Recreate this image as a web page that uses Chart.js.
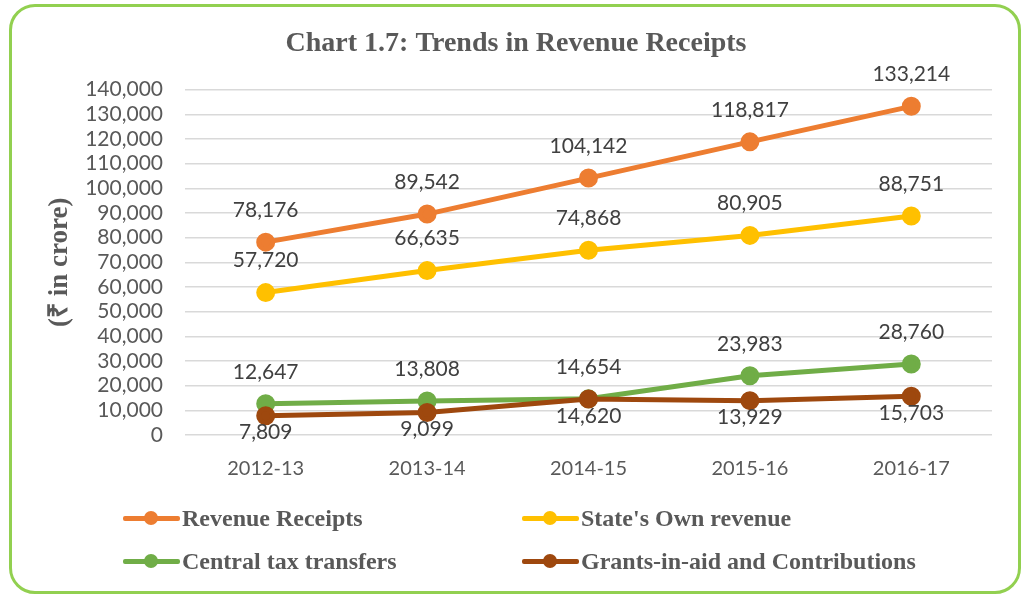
<!DOCTYPE html>
<html>
<head>
<meta charset="utf-8">
<script src="https://cdn.jsdelivr.net/npm/chart.js@4.4.1/dist/chart.umd.min.js"></script>
<style>
    body { margin: 0; background: #fff; }
    #wrap { position: absolute; left: 0; top: 0; width: 1022px; height: 594px; }
    #frame {
        position: absolute; left: 9px; top: 4px; width: 1006px; height: 584px;
        border: 3px solid #92d050; border-radius: 26px; box-sizing: content-box;
        pointer-events: none;
    }
    #legend {
        position: absolute; left: 123px; top: 503px; width: 880px;
        display: grid; grid-template-columns: 399px 399px; row-gap: 13px;
        font-family: "Liberation Serif", "Times New Roman", serif;
        font-weight: bold; font-size: 24px; color: #595959;
    }
    .item { display: flex; align-items: center; height: 30px; white-space: nowrap; }
    .swatch { position: relative; width: 57px; height: 14px; margin-right: 2px; }
    .swatch .ln { position: absolute; left: 0; right: 0; top: 5px; height: 5px; border-radius: 2px; }
    .swatch .pt { position: absolute; left: 21px; top: 0; width: 14px; height: 14px; border-radius: 50%; }
</style>
</head>
<body>
<div id="wrap">
    <canvas id="chart" width="1022" height="594"></canvas>
    <div id="frame"></div>
    <div id="legend"></div>
</div>
<script>
// Data
const years = ['2012-13', '2013-14', '2014-15', '2015-16', '2016-17'];
const revenueReceipts = [78176, 89542, 104142, 118817, 133214];
const ownRevenue = [57720, 66635, 74868, 80905, 88751];
const centralTax = [12647, 13808, 14654, 23983, 28760];
const grantsInAid = [7809, 9099, 14620, 13929, 15703];

const seriesNames = ['Revenue Receipts', "State's Own revenue", 'Central tax transfers', 'Grants-in-aid and Contributions'];
const seriesColors = ['#ed7d31', '#ffc000', '#70ad47', '#9e480e'];
const labelBelow = [false, false, false, true];

function makeDataset(i, values) {
    return {
        label: seriesNames[i],
        data: values,
        borderColor: seriesColors[i],
        backgroundColor: seriesColors[i],
        borderWidth: 5,
        pointRadius: 7,
        pointHoverRadius: 7,
        tension: 0,
        order: 4 - i, // later series drawn on top, like the original
        below: labelBelow[i]
    };
}

// Data labels above the points (below for the grants line)
const pointLabels = {
    id: 'pointLabels',
    afterDatasetsDraw(chart) {
        const ctx = chart.ctx;
        ctx.save();
        ctx.font = '21px Lato, "Open Sans", sans-serif';
        ctx.fillStyle = '#404040';
        ctx.textAlign = 'center';
        ctx.textBaseline = 'middle';
        chart.data.datasets.forEach((ds, i) => {
            chart.getDatasetMeta(i).data.forEach((pt, j) => {
                const y = ds.below ? pt.y + 17 : pt.y - 32;
                ctx.fillText(ds.data[j].toLocaleString('en-US'), pt.x, y);
            });
        });
        ctx.restore();
    }
};

const chart = new Chart(document.getElementById('chart'), {
    type: 'line',
    data: {
        labels: years,
        datasets: [
            makeDataset(0, revenueReceipts),
            makeDataset(1, ownRevenue),
            makeDataset(2, centralTax),
            makeDataset(3, grantsInAid)
        ]
    },
    options: {
        responsive: false,
        animation: false,
        layout: { padding: { left: 40, right: 30, top: 14, bottom: 109 } },
        plugins: {
            legend: { display: false },
            tooltip: { enabled: false },
            title: {
                display: true,
                text: 'Chart 1.7: Trends in Revenue Receipts',
                color: '#595959',
                font: { family: '"Liberation Serif", "Times New Roman", serif', size: 28, weight: 'bold' },
                padding: { top: 13, bottom: 29 }
            }
        },
        scales: {
            x: {
                offset: true,
                grid: { display: false },
                border: { display: false },
                ticks: { color: '#595959', font: { family: 'Lato, sans-serif', size: 20 }, padding: 14 },
                afterFit(scale) { scale.height = 50; }
            },
            y: {
                min: 0,
                max: 140000,
                ticks: {
                    stepSize: 10000,
                    autoSkip: false,
                    color: '#595959',
                    font: { family: 'Lato, sans-serif', size: 21 },
                    padding: 22,
                    callback: v => v.toLocaleString('en-US')
                },
                grid: { color: '#d9d9d9', lineWidth: 1.5, drawTicks: false },
                border: { display: false },
                title: {
                    display: true,
                    text: '(₹ in crore)',
                    color: '#595959',
                    padding: { top: 4, bottom: 4 },
                    font: { family: '"Liberation Serif", "Times New Roman", serif', size: 27, weight: 'bold' }
                },
                afterFit(scale) { scale.width = 145; }
            }
        }
    },
    plugins: [pointLabels]
});

// Legend from the datasets, two columns
const legendEl = document.getElementById('legend');
chart.data.datasets.forEach(ds => {
    const item = document.createElement('div');
    item.className = 'item';
    item.innerHTML = `<span class="swatch"><span class="ln" style="background:${ds.borderColor}"></span>` +
        `<span class="pt" style="background:${ds.borderColor}"></span></span><span>${ds.label}</span>`;
    legendEl.appendChild(item);
});
</script>
</body>
</html>
